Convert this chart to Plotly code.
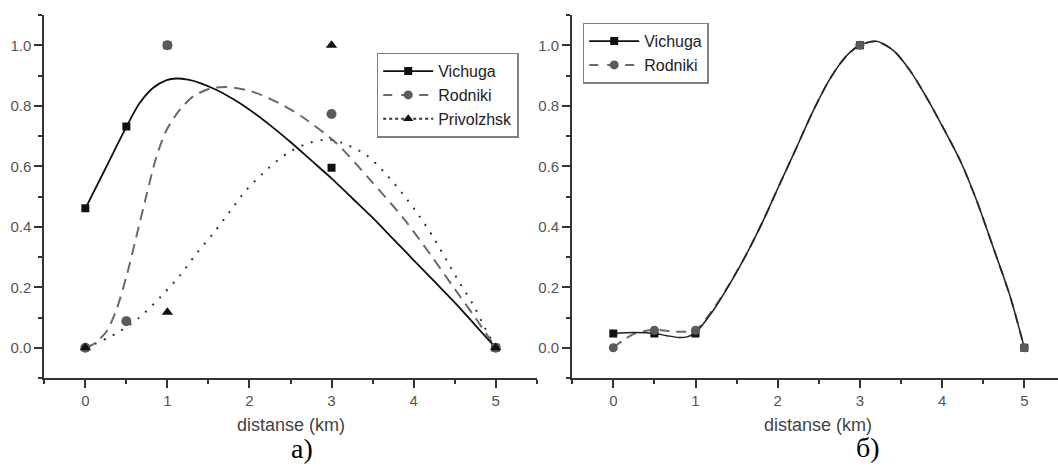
import plotly.graph_objects as go

# ---------------- data: panel a) ----------------
pts_x = [0, 0.5, 1, 3, 5]
vichuga_a = [0.461, 0.731, 1.0, 0.595, 0.0]
rodniki_a = [0.0, 0.088, 1.0, 0.773, 0.0]
privolzhsk_x = [0, 1, 3, 5]
privolzhsk_a = [0.0, 0.117, 1.0, 0.0]

# fitted curves
vichuga_fit_x = [0, 0.25, 0.5, 0.66, 0.82, 0.99, 1.11, 1.25, 1.4, 1.6, 1.8, 2.0, 2.25,
                 2.5, 2.75, 3.0, 3.25, 3.5, 3.75, 4.0, 4.25, 4.5, 4.75, 5.0]
vichuga_fit_a = [0.46, 0.595, 0.73, 0.808, 0.858, 0.885, 0.89, 0.886, 0.875, 0.852, 0.822,
                 0.787, 0.736, 0.68, 0.62, 0.56, 0.495, 0.43, 0.36, 0.29, 0.22, 0.15, 0.075, 0.0]
rodniki_fit_x = [0, 0.1, 0.256, 0.378, 0.5, 0.62, 0.75, 0.866, 0.99, 1.15, 1.31, 1.52, 1.72,
                 1.95, 2.15, 2.4, 2.65, 3.06, 3.47, 3.87, 4.2, 4.5, 4.75, 5.0]
rodniki_fit_a = [0.0, 0.012, 0.053, 0.125, 0.235, 0.365, 0.51, 0.631, 0.72, 0.786, 0.83,
                 0.857, 0.862, 0.853, 0.835, 0.803, 0.762, 0.676, 0.555, 0.43, 0.31, 0.195,
                 0.10, 0.0]
privolzhsk_fit_x = [0, 0.134, 0.276, 0.40, 0.66, 0.92, 1.15, 1.35, 1.56, 1.76, 1.96, 2.23,
                    2.49, 2.74, 2.95, 3.12, 3.41, 3.65, 3.87, 4.07, 4.24, 4.40, 4.56, 4.72,
                    4.87, 5.0]
privolzhsk_fit_a = [0.0, 0.015, 0.033, 0.051, 0.10, 0.169, 0.238, 0.31, 0.378, 0.45, 0.521,
                    0.593, 0.648, 0.678, 0.688, 0.678, 0.64, 0.578, 0.508, 0.435, 0.365, 0.29,
                    0.215, 0.145, 0.065, 0.0]

# ---------------- data: panel б) ----------------
vichuga_b = [0.047, 0.047, 0.047, 1.0, 0.0]
rodniki_b = [0.0, 0.058, 0.058, 1.0, 0.0]

vichuga_fit_bx = [0, 0.25, 0.5, 0.65, 0.8, 0.9, 1.0, 1.217, 1.42, 1.623, 1.825, 2.028, 2.231,
                  2.433, 2.636, 2.84, 3.0, 3.2, 3.41, 3.61, 3.81, 4.01, 4.22, 4.42, 4.62,
                  4.83, 5.0]
vichuga_fit_b = [0.047, 0.05, 0.047, 0.04, 0.034, 0.036, 0.05, 0.124, 0.212, 0.311, 0.421,
                 0.543, 0.663, 0.784, 0.889, 0.966, 1.0, 1.013, 0.982, 0.916, 0.828, 0.729,
                 0.619, 0.487, 0.333, 0.168, 0.0]
rodniki_fit_bx = [0, 0.12, 0.26, 0.4, 0.5, 0.62, 0.75, 0.88, 1.0, 1.217, 1.42, 1.623, 1.825,
                  2.028, 2.231, 2.433, 2.636, 2.84, 3.0, 3.2, 3.41, 3.61, 3.81, 4.01, 4.22,
                  4.42, 4.62, 4.83, 5.0]
rodniki_fit_b = [0.0, 0.025, 0.047, 0.056, 0.06, 0.057, 0.053, 0.053, 0.058, 0.128, 0.214,
                 0.311, 0.421, 0.543, 0.663, 0.784, 0.889, 0.966, 1.0, 1.013, 0.982, 0.916,
                 0.828, 0.729, 0.619, 0.487, 0.333, 0.168, 0.0]

x_ticks = [0, 1, 2, 3, 4, 5]
y_ticks = [0.0, 0.2, 0.4, 0.6, 0.8, 1.0]
y_tick_text = ["0.0", "0.2", "0.4", "0.6", "0.8", "1.0"]
names = ["Vichuga", "Rodniki", "Privolzhsk"]
x_title = "distanse (km)"
captions = ["а)", "б)"]

# ---------------- styles ----------------
BLACK = "#111111"
GRAY = "#5a5a5a"
DASH_GRAY = "#6a6a6a"
DOT = "#333333"
SANS = "Arial, Liberation Sans, sans-serif"
SERIF = "Times New Roman, Liberation Serif, serif"

fig = go.Figure()

def curve(x, y, color, dash, width, xa, ya):
    fig.add_trace(go.Scatter(x=x, y=y, mode="lines", xaxis=xa, yaxis=ya,
                             line=dict(color=color, width=width, dash=dash, shape="spline",
                                       smoothing=0.8),
                             showlegend=False, hoverinfo="skip"))

def marks(x, y, color, symbol, size, xa, ya):
    fig.add_trace(go.Scatter(x=x, y=y, mode="markers", xaxis=xa, yaxis=ya,
                             marker=dict(color=color, symbol=symbol, size=size),
                             showlegend=False, hoverinfo="skip"))

def legend_item(name, color, dash, width, mcolor, symbol, size, legend, xa, ya):
    fig.add_trace(go.Scatter(x=[None], y=[None], mode="lines+markers", name=name,
                             xaxis=xa, yaxis=ya, legend=legend,
                             line=dict(color=color, width=width, dash=dash),
                             marker=dict(color=mcolor, symbol=symbol, size=size)))

# panel a
curve(privolzhsk_fit_x, privolzhsk_fit_a, DOT, "2px,8px", 2, "x", "y")
curve(rodniki_fit_x, rodniki_fit_a, DASH_GRAY, "11px,7px", 2, "x", "y")
curve(vichuga_fit_x, vichuga_fit_a, BLACK, "solid", 1.8, "x", "y")
marks(pts_x, vichuga_a, BLACK, "square", 8, "x", "y")
marks(pts_x, rodniki_a, GRAY, "circle", 10, "x", "y")
marks(privolzhsk_x, privolzhsk_a, BLACK, "triangle-up", 10, "x", "y")
legend_item(names[0], BLACK, "solid", 1.8, BLACK, "square", 8, "legend", "x", "y")
legend_item(names[1], DASH_GRAY, "dash", 2, GRAY, "circle", 9, "legend", "x", "y")
legend_item(names[2], DOT, "dot", 2, BLACK, "triangle-up", 9, "legend", "x", "y")

# panel b
curve(rodniki_fit_bx, rodniki_fit_b, DASH_GRAY, "10px,7px", 2, "x2", "y2")
curve(vichuga_fit_bx, vichuga_fit_b, "#222222", "solid", 1.5, "x2", "y2")
marks(pts_x, vichuga_b, BLACK, "square", 8, "x2", "y2")
marks(pts_x, rodniki_b, GRAY, "circle", 9, "x2", "y2")
legend_item(names[0], BLACK, "solid", 1.8, BLACK, "square", 8, "legend2", "x2", "y2")
legend_item(names[1], DASH_GRAY, "dash", 2, GRAY, "circle", 9, "legend2", "x2", "y2")

W, H = 1058, 468
axis_common = dict(showline=True, linecolor="#333333", linewidth=2, ticks="outside",
                   ticklen=8, tickwidth=1.5, tickcolor="#333333", showgrid=False,
                   zeroline=False, automargin=False,
                   tickfont=dict(family=SANS, size=15, color="#555555"))

xa = dict(axis_common, tickvals=x_ticks,
          minor=dict(ticks="outside", ticklen=4, tickwidth=1.5, tickcolor="#333333",
                     tick0=-0.5, dtick=0.5, showgrid=False))
ya = dict(axis_common, tickvals=y_ticks, ticktext=y_tick_text, range=[-0.1, 1.1],
          minor=dict(ticks="outside", ticklen=4, tickwidth=1.5, tickcolor="#333333",
                     tick0=0, dtick=0.1, showgrid=False))

legend_font = dict(family=SANS, size=16, color="#222222")

fig.update_layout(
    width=W, height=H,
    margin=dict(l=0, r=0, t=15, b=90),
    template="none",
    plot_bgcolor="white", paper_bgcolor="white",
    xaxis=dict(xa, domain=[44.3 / W, 536.7 / W], range=[-0.5, 5.5], anchor="y"),
    yaxis=dict(ya, domain=[0, 1], anchor="x"),
    xaxis2=dict(xa, domain=[572.2 / W, 1.0], range=[-0.5, 5.41], anchor="y2"),
    yaxis2=dict(ya, domain=[0, 1], anchor="x2"),
    legend=dict(x=376.7 / W, y=(378 - 52.7) / 363, xanchor="left", yanchor="top",
                bordercolor="#808080", borderwidth=1.5, bgcolor="white",
                font=legend_font, itemwidth=50, tracegroupgap=0),
    legend2=dict(x=582.7 / W, y=(378 - 22.7) / 363, xanchor="left", yanchor="top",
                 bordercolor="#808080", borderwidth=1.5, bgcolor="white",
                 font=legend_font, itemwidth=50, tracegroupgap=0),
    annotations=[
        dict(text=x_title, x=290.5 / W, y=(378 - 425) / 363, xref="paper", yref="paper",
             xanchor="center", yanchor="middle", showarrow=False,
             font=dict(family=SANS, size=18, color="#444444")),
        dict(text=x_title, x=818.3 / W, y=(378 - 425) / 363, xref="paper", yref="paper",
             xanchor="center", yanchor="middle", showarrow=False,
             font=dict(family=SANS, size=18, color="#444444")),
        dict(text=captions[0], x=301.7 / W, y=(378 - 448) / 363, xref="paper", yref="paper",
             xanchor="center", yanchor="middle", showarrow=False,
             font=dict(family=SERIF, size=28, color="#000000")),
        dict(text=captions[1], x=867.5 / W, y=(378 - 447) / 363, xref="paper", yref="paper",
             xanchor="center", yanchor="middle", showarrow=False,
             font=dict(family=SERIF, size=28, color="#000000")),
    ],
)

fig.write_html("out.html", config={"displayModeBar": False},
               post_script="document.body.style.margin='0px';")
